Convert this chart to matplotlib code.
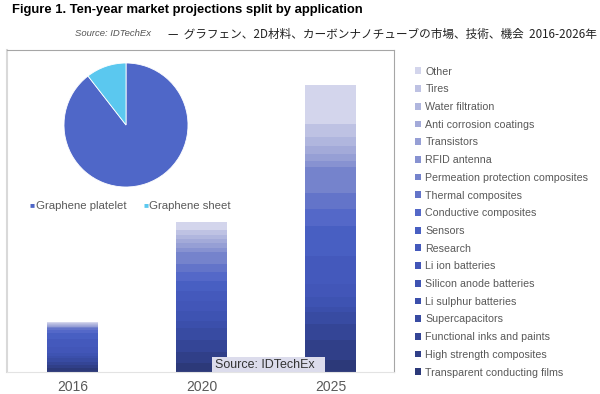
import numpy as np
import matplotlib
matplotlib.use('Agg')
import matplotlib.pyplot as plt
from matplotlib.patches import Rectangle

plt.rcParams['font.family'] = ['Liberation Sans', 'DejaVu Sans']

# stacked bar data, bottom segment first
years = ['2016', '2020', '2025']
applications = ['Transparent conducting films', 'High strength composites',
                'Functional inks and paints', 'Supercapacitors', 'Li sulphur batteries',
                'Silicon anode batteries', 'Li ion batteries', 'Research', 'Sensors',
                'Conductive composites', 'Thermal composites',
                'Permeation protection composites', 'RFID antenna', 'Transistors',
                'Anti corrosion coatings', 'Water filtration', 'Tires', 'Other']
values_2016 = [4, 3, 3, 4, 2, 3, 6, 8, 6, 3, 2, 1, 0.5, 0.5, 1, 1, 1, 1]
values_2020 = [9, 11, 12, 12, 7, 10, 10, 10, 10, 9, 8, 12, 4, 5, 4, 4, 5, 8]
values_2025 = [12, 20, 16, 12, 5, 10, 13, 28, 30, 17, 16, 26, 6, 7, 8, 9, 13, 39]
colors = ['#2c3979', '#303f88', '#344596', '#384ba2', '#3b4fab', '#3e53b2',
          '#4256b8', '#4459bc', '#485fc2', '#5468c8', '#6374c9', '#7583cc',
          '#8792d1', '#969fd5', '#a3aad9', '#b0b6de', '#bec2e3', '#d3d5ec']

# pie data
pie_labels = ['Graphene platelet', 'Graphene sheet']
pie_shares = [89.5, 10.5]
pie_colors = ['#4f67c8', '#5bc8ef']

W, H = 600, 394
fig = plt.figure(figsize=(6, 3.94), dpi=100)

def box(x0, y0, x1, y1):
    return [x0 / W, 1 - y1 / H, (x1 - x0) / W, (y1 - y0) / H]

fig.text(12 / W, 1 - 10 / H, 'Figure 1. Ten-year market projections split by application',
         fontsize=9.4, fontweight='bold', va='center', ha='left')
fig.text(75 / W, 1 - 34 / H, 'Source: IDTechEx', fontsize=6.8, style='italic',
         color='#555555', va='center', ha='left')
fig.text(597 / W, 1 - 34 / H, '—  グラフェン、2D材料、カーボンナノチューブの市場、技術、機会  2016-2026年',
         fontsize=8.4, color='#222222', va='center', ha='right',
         family=['Noto Sans CJK JP', 'DejaVu Sans'])

ax = fig.add_axes(box(7, 50, 394, 372))
data = np.array([values_2016, values_2020, values_2025])
x = np.arange(len(years))
bottom = np.zeros(len(years))
bars = []
for i, app in enumerate(applications):
    b = ax.bar(x, data[:, i], bottom=bottom, width=0.395, color=colors[i], label=app)
    bars.append(b)
    bottom += data[:, i]
ax.set_xlim(-0.508, 2.492)
ax.set_ylim(0, 322)
ax.set_yticks([])
ax.set_xticks(x)
ax.set_xticklabels(years, fontsize=10, color='#595959')
ax.tick_params(axis='x', length=0, pad=6)
ax.spines['top'].set_color('#a6a6a6')
ax.spines['right'].set_color('#a6a6a6')
ax.spines['left'].set_color('#d9d9d9')
ax.spines['left'].set_linewidth(1.5)
ax.spines['bottom'].set_color('#e3e3e3')

# source box
fig.patches.append(Rectangle((212 / W, 1 - 372 / H), 113 / W, 15 / H,
                             transform=fig.transFigure, facecolor='#dcdcec',
                             edgecolor='none', zorder=5))
fig.text(215 / W, 1 - 365 / H, 'Source: IDTechEx', fontsize=9, color='#333333',
         va='center', ha='left', zorder=6)

# pie
pax = fig.add_axes(box(64, 63, 188, 187))
pax.pie(pie_shares, colors=pie_colors, startangle=90, counterclock=False,
        radius=1, wedgeprops=dict(linewidth=0.6, edgecolor='white'))
pax.set_xlim(-1, 1)
pax.set_ylim(-1, 1)
pax.set_aspect('equal')
pax.axis('off')

for lx, lab, c in zip([30, 143], pie_labels, pie_colors):
    fig.text(lx / W, 1 - 206 / H, '■', fontsize=6, color=c, va='center', ha='left')
    fig.text((lx + 6) / W, 1 - 206 / H, lab, fontsize=8.2, color='#595959',
             va='center', ha='left')

# right legend
leg = fig.legend(bars[::-1], applications[::-1], loc='upper left',
                 bbox_to_anchor=(405 / W, 1 - 57 / H), frameon=False, fontsize=7.7,
                 handlelength=0.6, handleheight=0.6, handletextpad=0.4,
                 labelspacing=0.72, labelcolor='#595959')

fig.savefig('out.png', dpi=100)
